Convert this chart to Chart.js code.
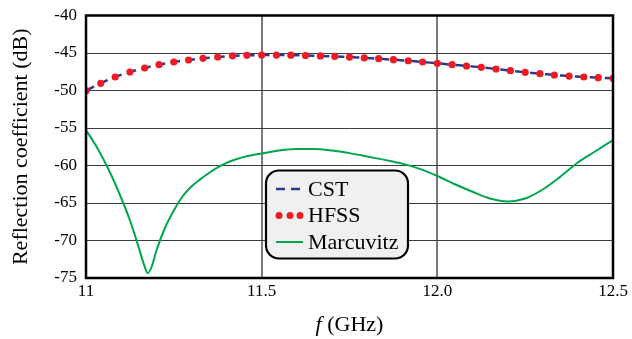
<!DOCTYPE html>
<html>
<head>
<meta charset="utf-8">
<script src="https://cdn.jsdelivr.net/npm/chart.js@4.4.1/dist/chart.umd.min.js"></script>
<style>
  html, body { margin: 0; padding: 0; background: #fff; }
  #wrap { width: 632px; height: 339px; }
</style>
</head>
<body>
<div id="wrap"><canvas id="reflectionChart" width="632" height="339"></canvas></div>
<script>
// simulated frequency points (GHz)
const freqSim = [11.000, 11.042, 11.083, 11.125, 11.167, 11.208, 11.250, 11.292, 11.333, 11.375,
  11.417, 11.458, 11.500, 11.542, 11.583, 11.625, 11.667, 11.708, 11.750, 11.792,
  11.833, 11.875, 11.917, 11.958, 12.000, 12.042, 12.083, 12.125, 12.167, 12.208,
  12.250, 12.292, 12.333, 12.375, 12.417, 12.458, 12.500];

// reflection coefficient (dB)
const cstValues = [-50.02, -49.04, -48.20, -47.53, -47.00, -46.56, -46.20, -45.93, -45.71, -45.53,
  -45.38, -45.31, -45.27, -45.27, -45.29, -45.33, -45.39, -45.46, -45.54, -45.64,
  -45.76, -45.89, -46.03, -46.20, -46.37, -46.56, -46.73, -46.91, -47.13, -47.36,
  -47.57, -47.76, -47.93, -48.07, -48.20, -48.29, -48.37];
const hfssValues = [-50.02, -49.04, -48.20, -47.53, -47.00, -46.56, -46.20, -45.93, -45.71, -45.53,
  -45.38, -45.31, -45.27, -45.27, -45.29, -45.33, -45.39, -45.46, -45.54, -45.64,
  -45.76, -45.89, -46.03, -46.20, -46.37, -46.56, -46.73, -46.91, -47.13, -47.36,
  -47.57, -47.76, -47.93, -48.07, -48.20, -48.29, -48.37];

// analytic model (Marcuvitz)
const freqMarcuvitz = [11.000, 11.025, 11.050, 11.075, 11.100, 11.125, 11.150, 11.165, 11.176, 11.187,
  11.200, 11.225, 11.250, 11.275, 11.300, 11.325, 11.350, 11.375, 11.400, 11.425,
  11.450, 11.475, 11.500, 11.550, 11.600, 11.650, 11.700, 11.750, 11.800, 11.850,
  11.900, 11.950, 12.000, 12.050, 12.100, 12.150, 12.200, 12.250, 12.300, 12.350,
  12.400, 12.450, 12.500];
const marcuvitzValues = [-55.3, -57.1, -59.2, -61.6, -64.3, -67.3, -70.9, -73.2, -74.35, -73.5,
  -71.4, -68.3, -66.0, -64.1, -62.8, -61.85, -61.0, -60.25, -59.65, -59.2,
  -58.85, -58.6, -58.4, -58.0, -57.8, -57.8, -58.0, -58.35, -58.8, -59.25,
  -59.75, -60.45, -61.4, -62.5, -63.5, -64.4, -64.8, -64.4, -63.2, -61.5,
  -59.6, -58.1, -56.6];

const xTickValues = [11, 11.5, 12, 12.5];
const xTickLabels = ['11', '11.5', '12.0', '12.5'];
const yTickValues = [-75, -70, -65, -60, -55, -50, -45, -40];
const yTickLabels = ['-75', '-70', '-65', '-60', '-55', '-50', '-45', '-40'];
const seriesNames = ['CST', 'HFSS', 'Marcuvitz'];

const serif = "'Liberation Serif', 'Times New Roman', serif";

function toPoints(xs, ys) {
  return xs.map((x, i) => ({ x: x, y: ys[i] }));
}

// black frame around the plot area
const framePlugin = {
  id: 'frame',
  afterDatasetsDraw(chart) {
    const { ctx, chartArea: a } = chart;
    ctx.save();
    ctx.strokeStyle = '#000';
    ctx.lineWidth = 2.5;
    ctx.strokeRect(a.left, a.top, a.right - a.left, a.bottom - a.top);
    ctx.restore();
  }
};

// x axis title with italic f
const xTitlePlugin = {
  id: 'xTitle',
  afterDraw(chart) {
    const { ctx, chartArea: a } = chart;
    ctx.save();
    ctx.fillStyle = '#000';
    ctx.textBaseline = 'middle';
    ctx.textAlign = 'left';
    const italic = 'italic 22px ' + serif;
    const normal = '22px ' + serif;
    ctx.font = italic;
    const w1 = ctx.measureText('f').width;
    ctx.font = normal;
    const w2 = ctx.measureText(' (GHz)').width;
    const x0 = (a.left + a.right) / 2 - (w1 + w2) / 2;
    const y = a.bottom + 47;
    ctx.font = italic;
    ctx.fillText('f', x0, y);
    ctx.font = normal;
    ctx.fillText(' (GHz)', x0 + w1, y);
    ctx.restore();
  }
};

// rounded legend box inside the plot
const legendBoxPlugin = {
  id: 'legendBox',
  afterDraw(chart) {
    const { ctx, chartArea: a } = chart;
    const bx = a.left + 180, by = a.top + 155, bw = 142, bh = 88, r = 13;
    ctx.save();
    ctx.beginPath();
    ctx.roundRect(bx, by, bw, bh, r);
    ctx.fillStyle = '#f0f0f0';
    ctx.fill();
    ctx.lineWidth = 2.2;
    ctx.strokeStyle = '#000';
    ctx.stroke();

    const ds = chart.data.datasets;
    const sx = bx + 10, ex = bx + 37;
    ds.forEach((d, i) => {
      const y = by + 18.5 + i * 26.5;
      if (d.showLine === false) {
        ctx.fillStyle = d.pointBackgroundColor;
        [sx + 3, sx + 14, sx + 24].forEach(px => {
          ctx.beginPath();
          ctx.arc(px, y, 3.5, 0, Math.PI * 2);
          ctx.fill();
        });
      } else {
        ctx.beginPath();
        ctx.setLineDash(d.borderDash || []);
        ctx.strokeStyle = d.borderColor;
        ctx.lineWidth = d.borderWidth;
        ctx.moveTo(sx, y);
        ctx.lineTo(ex, y);
        ctx.stroke();
        ctx.setLineDash([]);
      }
      ctx.fillStyle = '#000';
      ctx.font = '22px ' + serif;
      ctx.textBaseline = 'middle';
      ctx.textAlign = 'left';
      ctx.fillText(d.label, ex + 5, y + 1);
    });
    ctx.restore();
  }
};

const ctx = document.getElementById('reflectionChart').getContext('2d');
new Chart(ctx, {
  type: 'line',
  data: {
    datasets: [
      {
        label: seriesNames[0],
        data: toPoints(freqSim, cstValues),
        borderColor: '#2a3a8c',
        borderWidth: 2.5,
        borderDash: [9, 6],
        pointRadius: 0,
        tension: 0.4,
        order: 1
      },
      {
        label: seriesNames[1],
        data: toPoints(freqSim, hfssValues),
        showLine: false,
        pointRadius: 3.6,
        pointBorderWidth: 0,
        pointBackgroundColor: '#ed1c24',
        pointBorderColor: '#ed1c24',
        borderColor: '#ed1c24',
        order: 0
      },
      {
        label: seriesNames[2],
        data: toPoints(freqMarcuvitz, marcuvitzValues),
        borderColor: '#00a550',
        borderWidth: 2,
        pointRadius: 0,
        cubicInterpolationMode: 'monotone',
        order: 2
      }
    ]
  },
  options: {
    responsive: false,
    animation: false,
    devicePixelRatio: 1,
    layout: { padding: { top: 15.5, right: 19, bottom: 0, left: 0 } },
    plugins: {
      legend: { display: false },
      tooltip: { enabled: false }
    },
    scales: {
      x: {
        type: 'linear',
        min: 11,
        max: 12.5,
        afterBuildTicks: (scale) => { scale.ticks = xTickValues.map(v => ({ value: v })); },
        afterFit: (scale) => { scale.height = 61; },
        ticks: {
          color: '#000',
          padding: 3,
          maxRotation: 0,
          font: { family: serif, size: 17 },
          callback: (v) => xTickLabels[xTickValues.indexOf(v)]
        },
        grid: {
          drawTicks: false,
          color: (c) => (c.tick && (c.tick.value === 11.5 || c.tick.value === 12)) ? '#7a7a7a' : 'rgba(0,0,0,0)',
          lineWidth: 2
        },
        border: { display: false }
      },
      y: {
        min: -75,
        max: -40,
        afterBuildTicks: (scale) => { scale.ticks = yTickValues.map(v => ({ value: v })); },
        afterFit: (scale) => { scale.width = 86; },
        ticks: {
          color: '#000',
          padding: 9,
          font: { family: serif, size: 17, lineHeight: 0.6 },
          callback: (v) => yTickLabels[yTickValues.indexOf(v)]
        },
        grid: {
          drawTicks: false,
          color: '#3c3c3c',
          lineWidth: 1
        },
        border: { display: false },
        title: {
          display: true,
          text: 'Reflection coefficient (dB)',
          color: '#000',
          font: { family: serif, size: 22 },
          padding: { top: 8, bottom: 0 }
        }
      }
    }
  },
  plugins: [framePlugin, xTitlePlugin, legendBoxPlugin]
});
</script>
</body>
</html>
